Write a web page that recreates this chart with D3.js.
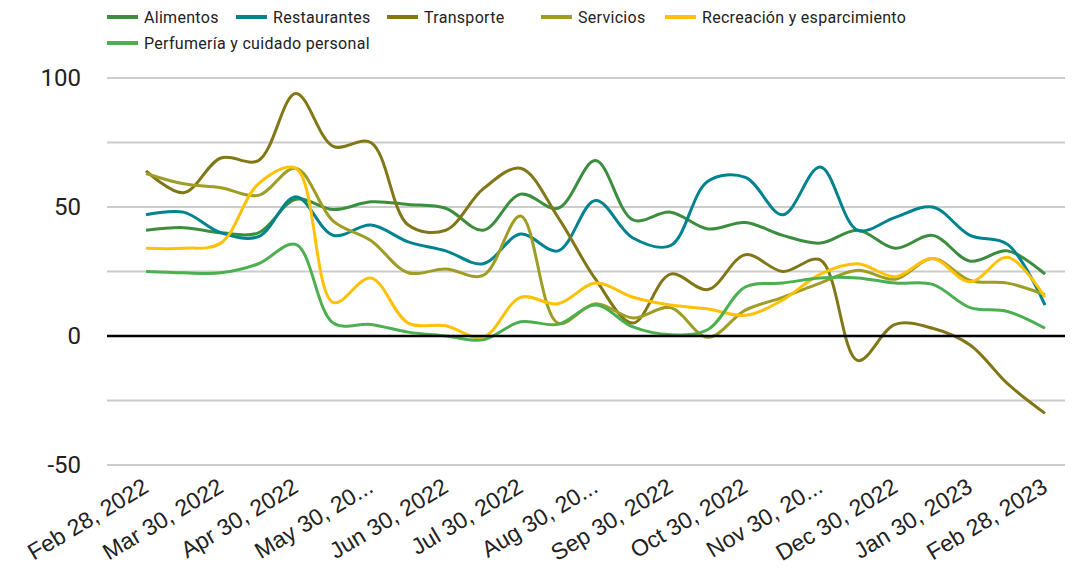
<!DOCTYPE html>
<html>
<head>
<meta charset="utf-8">
<script src="https://cdn.jsdelivr.net/npm/d3@7"></script>
<style>
	body{ margin:0; background:#fff; }
	svg{ display:block; }
</style>
</head>
<body>
<svg id="chart" width="1074" height="569"></svg>
<script>
var fechas = ["2022-02-28","2022-03-15","2022-03-30","2022-04-15","2022-04-30","2022-05-15","2022-05-30",
	"2022-06-15","2022-06-30","2022-07-15","2022-07-30","2022-08-15","2022-08-30","2022-09-15","2022-09-30",
	"2022-10-15","2022-10-30","2022-11-15","2022-11-30","2022-12-15","2022-12-30","2023-01-15","2023-01-30",
	"2023-02-15","2023-02-28"];

var tickLabels = ["Feb 28, 2022","Mar 30, 2022","Apr 30, 2022","May 30, 20...","Jun 30, 2022","Jul 30, 2022",
	"Aug 30, 20...","Sep 30, 2022","Oct 30, 2022","Nov 30, 20...","Dec 30, 2022","Jan 30, 2023","Feb 28, 2023"];

var yTicks = [100, 50, 0, -50];
var gridValues = [100, 75, 50, 25, -25, -50];

var alimentos = [41,42,40,40,53,49,52,51,49.5,41,55,49.5,68,45,48,41.5,44,39,36,41,34,39,29,33,24];
var restaurantes = [47,48,40,38.5,54,39,43,36.5,33,28,39.5,33,52.5,38,35,60,61.5,47,65.5,41,46,50,39,35.5,12];
var transporte = [64,55.5,69,68,94,73.5,75,43,41,57,65,46,22,5,24,18,31.5,25,29.5,-9.5,4.5,3,-3.5,-18.5,-30];
var servicios = [63,59,57.5,54.5,65,44.5,37,24.5,26,23.5,46.5,5,12.5,7,11,-0.5,10,15,20.5,25.5,22,30,21.5,20.5,16];
var recreacion = [34,34,36,59,65,13,22.5,5,4,-0.5,15,12.5,20.5,15,12,10.5,8,14,24,28,23,30,21,30.5,15];
var perfumeria = [25,24.5,24.5,28,35.5,5,4.5,1.5,0,-1.5,5.5,4.5,12,3.5,0.5,2.5,19,20.5,22.5,22.5,20.5,20,11,9.5,3];

var seriesNames = ["Alimentos","Restaurantes","Transporte","Servicios","Recreación y esparcimiento","Perfumería y cuidado personal"];
var seriesColors = ["#3b8e3d","#00838f","#827717","#9e9d24","#ffc107","#4caf50"];

var series = [alimentos, restaurantes, transporte, servicios, recreacion, perfumeria].map(function(values, i){
	return { name: seriesNames[i], color: seriesColors[i], values: values };
});

var svg = d3.select("#chart");

var x = d3.scalePoint()
	.domain(fechas)
	.range([146, 1045]);

var y = d3.scaleLinear()
	.domain([-50, 100])
	.range([465, 78]);

var gridLeft = 107, gridRight = 1065;

// gridlines
svg.append("g")
	.selectAll("line.grid")
	.data(gridValues)
	.enter()
	.append("line")
	.classed("grid", true)
	.attr("x1", gridLeft)
	.attr("x2", gridRight)
	.attr("y1", function(d){ return y(d); })
	.attr("y2", function(d){ return y(d); })
	.attr("stroke", "#cccccc")
	.attr("stroke-width", 2);

// y labels
svg.append("g")
	.selectAll("text")
	.data(yTicks)
	.enter()
	.append("text")
	.attr("x", 81)
	.attr("y", function(d){ return y(d); })
	.attr("dy", "0.35em")
	.attr("text-anchor", "end")
	.attr("font-family", "Roboto, sans-serif")
	.attr("font-size", 24)
	.attr("fill", "#222")
	.text(function(d){ return d; });

// x labels, every other date
var tickDates = fechas.filter(function(d, i){ return i % 2 === 0; });
svg.append("g")
	.selectAll("text")
	.data(tickDates)
	.enter()
	.append("text")
	.attr("transform", function(d){
		return "translate(" + (x(d) + 4) + ",491) rotate(-31)";
	})
	.attr("text-anchor", "end")
	.attr("font-family", "'Liberation Sans', Arial, sans-serif")
	.attr("font-size", 23)
	.attr("fill", "#222")
	.text(function(d, i){ return tickLabels[i]; });

// lines
var line = d3.line()
	.x(function(d, i){ return x(fechas[i]); })
	.y(function(d){ return y(d); })
	.curve(d3.curveCatmullRom.alpha(0.5));

svg.append("g")
	.selectAll("path")
	.data(series)
	.enter()
	.append("path")
	.attr("d", function(d){ return line(d.values); })
	.attr("fill", "none")
	.attr("stroke", function(d){ return d.color; })
	.attr("stroke-width", 3);

// zero line on top
svg.append("line")
	.attr("x1", gridLeft)
	.attr("x2", gridRight)
	.attr("y1", y(0))
	.attr("y2", y(0))
	.attr("stroke", "#000")
	.attr("stroke-width", 2.5);

// legend
var legendPos = [[107,17],[236,17],[387,17],[541,17],[665,17],[107,43]];
var legend = svg.append("g")
	.selectAll("g.item")
	.data(series)
	.enter()
	.append("g")
	.classed("item", true)
	.attr("transform", function(d, i){
		return "translate(" + legendPos[i][0] + "," + legendPos[i][1] + ")";
	});

legend.append("line")
	.attr("x1", 0)
	.attr("x2", 31)
	.attr("stroke", function(d){ return d.color; })
	.attr("stroke-width", 4);

legend.append("text")
	.attr("x", 37)
	.attr("dy", "0.35em")
	.attr("font-family", "Roboto, sans-serif")
	.attr("font-size", 16)
	.attr("letter-spacing", 0.3)
	.attr("fill", "#222")
	.text(function(d){ return d.name; });
</script>
</body>
</html>
